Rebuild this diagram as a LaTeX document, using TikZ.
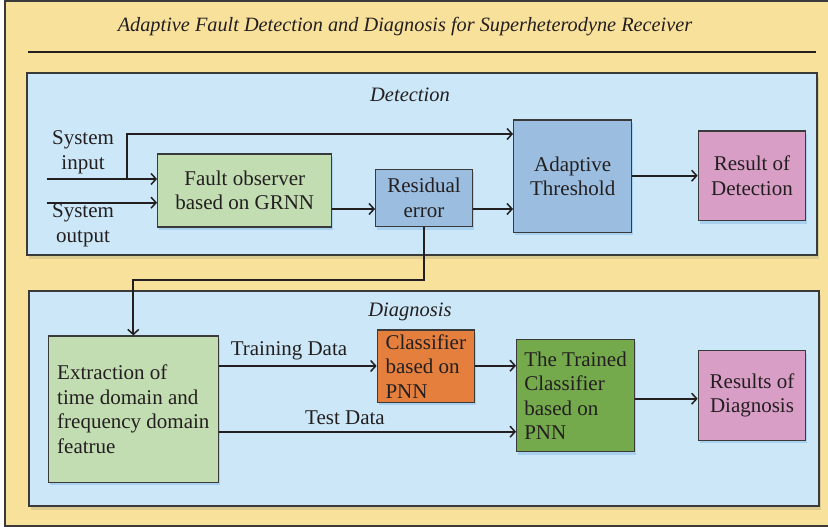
\documentclass[tikz,border=0pt]{standalone}
\usepackage{fontspec}
\setmainfont{Liberation Serif}
\usetikzlibrary{arrows.meta,shadows}
\definecolor{bgyellow}{HTML}{F8E19B}
\definecolor{panelblue}{HTML}{CCE8F8}
\definecolor{panelshadow}{HTML}{DCCB90}
\definecolor{boxshadow}{HTML}{A9D0EE}
\definecolor{faultgreen}{HTML}{C3DDB2}
\definecolor{boxblue}{HTML}{9BBEE0}
\definecolor{boxpink}{HTML}{D99EC6}
\definecolor{boxorange}{HTML}{E47F3E}
\definecolor{boxgreen}{HTML}{74A94C}
\definecolor{edgegray}{HTML}{3A3A3A}
\definecolor{txt}{HTML}{231F20}
\begin{document}
\begin{tikzpicture}[x=1pt,y=-1pt,
  every node/.style={text=txt},
  bodyfont/.style={font=\fontsize{21}{24.5}\selectfont},
  panel/.style={draw=edgegray,line width=1.3pt,fill=panelblue,
    general shadow={fill=panelshadow,shadow xshift=1.5pt,shadow yshift=-4pt}},
  blk/.style={draw=edgegray,line width=1.3pt,bodyfont,inner sep=0pt,align=center,
    general shadow={fill=boxshadow,shadow xshift=1.5pt,shadow yshift=-3pt}},
  lblk/.style={blk,align=left},
  arr/.style={draw=txt,line width=1.9pt,-{Straight Barb[length=5pt,width=11pt,line width=1.5pt]}},
  lbl/.style={bodyfont,align=center,inner sep=0pt}]
\useasboundingbox (0,0) rectangle (828,527);
% outer frame
\fill[bgyellow] (5,1) rectangle (828,526);
\draw[edgegray,line width=1.2pt] (828,1) -- (5,1) -- (5,526) -- (828,526);
% title
\node[font=\fontsize{20.3}{24}\selectfont\itshape] (title) at (405,27) {Adaptive Fault Detection and Diagnosis for Superheterodyne Receiver};
\draw[line width=2pt,txt] (28,52) -- (816,52);
% panels
\node[panel,minimum width=790,minimum height=182,inner sep=0pt] (det) at (422,164) {};
\node[panel,minimum width=790,minimum height=215,inner sep=0pt] (dia) at (424,398.5) {};
\node[font=\fontsize{20.5}{24}\selectfont\itshape] (detlbl) at (410,95) {Detection};
\node[font=\fontsize{20.5}{24}\selectfont\itshape] (dialbl) at (410,312) {Diagnosis};
% detection boxes
\node[blk,fill=faultgreen,minimum width=174,minimum height=73] (fault) at (244.7,190.5) {Fault observer\\based on GRNN};
\node[blk,fill=boxblue,minimum width=96.6,minimum height=57.4] (resid) at (424,198) {Residual\\error};
\node[blk,fill=boxblue,minimum width=118,minimum height=112.3] (thresh) at (572.7,176.2) {Adaptive\\Threshold};
\node[blk,fill=boxpink,minimum width=107.4,minimum height=89.7] (resdet) at (752,175.9) {Result of\\Detection};
% detection labels
\node[lbl] (sysin) at (83,152.5) {System\\input};
\node[lbl] (sysout) at (83,225.5) {System\\output};
% detection connectors
\coordinate (inS) at (46.7,179);
\coordinate (outS) at (46.7,202.7);
\coordinate (br) at (126.7,179);
\draw[arr] (inS) -- (inS -| fault.west);
\draw[arr] (outS) -- (outS -| fault.west);
\draw[arr] (br) |- (thresh.west |- 0,134);
\draw[arr] (fault.east |- 0,209) -- (resid.west |- 0,209);
\draw[arr] (resid.east |- 0,209) -- (thresh.west |- 0,209);
\draw[arr] (thresh.east |- 0,175.7) -- (resdet.west |- 0,175.7);
% diagnosis boxes
\node[lblk,fill=faultgreen,minimum width=170,minimum height=146.3] (extract) at (133.3,409.2) {Extraction of\\time domain and\\frequency domain\\featrue};
\node[lblk,fill=boxorange,minimum width=97,minimum height=72.3] (classif) at (425.8,366.2) {Classifier\\based on\\PNN};
\node[lblk,fill=boxgreen,minimum width=117.6,minimum height=112.4] (trained) at (575.5,395.5) {The Trained\\Classifier\\based on\\PNN};
\node[blk,fill=boxpink,minimum width=107.4,minimum height=89.6] (resdiag) at (752,395.5) {Results of\\Diagnosis};
% diagnosis connectors
\draw[arr] (resid.south) -- ++(0,52.3) -| (extract.north);
\draw[arr] (extract.east |- 0,366) -- (classif.west |- 0,366);
\node[lbl] (trainlbl) at (289,351) {Training Data};
\draw[arr] (extract.east |- 0,431.7) -- (trained.west |- 0,431.7);
\node[lbl] (testlbl) at (345,418) {Test Data};
\draw[arr] (classif.east |- 0,365.7) -- (trained.west |- 0,365.7);
\draw[arr] (trained.east |- 0,398.7) -- (resdiag.west |- 0,398.7);
\end{tikzpicture}
\end{document}
